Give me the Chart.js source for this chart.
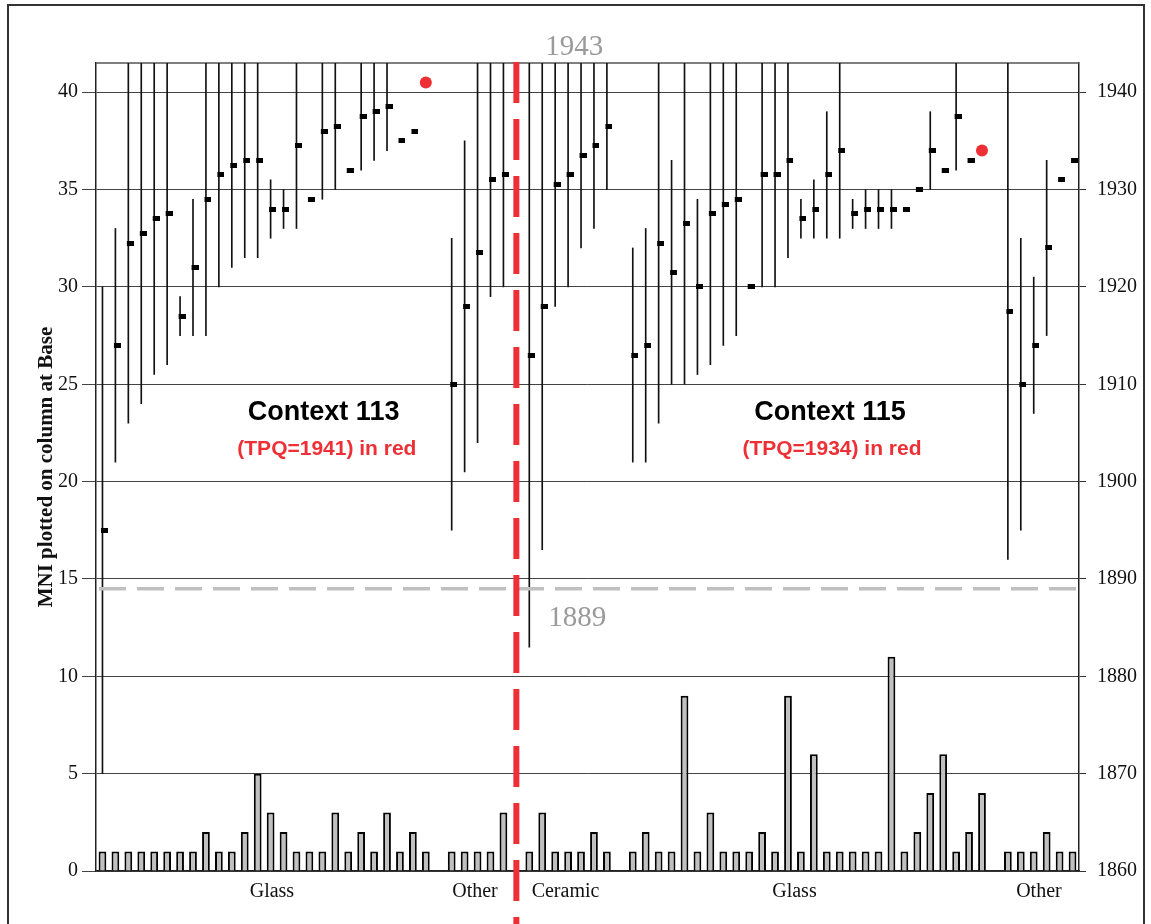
<!DOCTYPE html>
<html>
<head>
<meta charset="utf-8">
<title>MNI and date ranges, contexts 113 and 115</title>
<script src="https://cdn.jsdelivr.net/npm/chart.js@4.4.1/dist/chart.umd.min.js"></script>
<style>
  html, body { margin: 0; padding: 0; background: #fff; }
  #wrap { position: relative; width: 1151px; height: 924px; overflow: hidden; }
  #frame { position: absolute; left: 7px; top: 4px; width: 1134px; height: 960px; border: 2px solid #333; pointer-events: none; }
</style>
</head>
<body>
<div id="wrap">
  <canvas id="chart" width="1151" height="924"></canvas>
  <div id="frame"></div>
</div>
<script>
// one slot per column on the x axis, null = empty slot
// slots 0-25 glass (113), 27-31 other (113), 33-39 ceramic (115), 41-68 glass (115), 70-75 other (115)
const mni = [
  1, 1, 1, 1, 1, 1, 1, 1, 2, 1,
  1, 2, 5, 3, 2, 1, 1, 1, 3, 1,
  2, 1, 3, 1, 2, 1, null, 1, 1, 1,
  1, 3, null, 1, 3, 1, 1, 1, 2, 1,
  null, 1, 2, 1, 1, 9, 1, 3, 1, 1,
  1, 2, 1, 9, 1, 6, 1, 1, 1, 1,
  1, 11, 1, 2, 4, 6, 1, 2, 4, null,
  1, 1, 1, 2, 1, 1
];

// date range of each find (right axis, years)
const yearLo = [
  1870, 1902, 1906, 1908, 1911, 1912, 1915, 1915, 1915, 1920,
  1922, 1923, 1923, 1925, 1926, 1926, null, 1929, 1930, null,
  1932, 1933, 1934, null, null, null, null, 1895, 1901, 1904,
  1919, 1920, null, 1883, 1893, 1918, 1920, 1924, 1926, 1930,
  null, 1902, 1902, 1906, 1910, 1910, 1911, 1912, 1914, 1915,
  null, 1920, 1920, 1923, 1925, 1925, 1925, 1925, 1926, 1926,
  1926, 1926, null, null, 1930, null, 1932, null, null, null,
  1892, 1895, 1907, 1915, null, null
];
const yearHi = [
  1920, 1926, 1943, 1943, 1943, 1943, 1919, 1929, 1943, 1943,
  1943, 1943, 1943, 1931, 1930, 1943, null, 1943, 1943, null,
  1943, 1943, 1943, null, null, null, null, 1925, 1935, 1943,
  1943, 1943, null, 1943, 1943, 1943, 1943, 1943, 1943, 1943,
  null, 1924, 1926, 1943, 1933, 1943, 1929, 1943, 1943, 1943,
  null, 1943, 1943, 1943, 1929, 1931, 1938, 1943, 1929, 1930,
  1930, 1930, null, null, 1938, null, 1943, null, null, null,
  1943, 1925, 1921, 1933, null, null
];
const yearMid = [
  1895, 1914, 1924.5, 1925.5, 1927, 1927.5, 1917, 1922, 1929, 1931.5,
  1932.5, 1933, 1933, 1928, 1928, 1934.5, 1929, 1936, 1936.5, 1932,
  1937.5, 1938, 1938.5, 1935, 1936, null, null, 1910, 1918, 1923.5,
  1931, 1931.5, null, 1913, 1918, 1930.5, 1931.5, 1933.5, 1934.5, 1936.5,
  null, 1913, 1914, 1924.5, 1921.5, 1926.5, 1920, 1927.5, 1928.5, 1929,
  1920, 1931.5, 1931.5, 1933, 1927, 1928, 1931.5, 1934, 1927.5, 1928,
  1928, 1928, 1928, 1930, 1934, 1932, 1937.5, 1933, null, null,
  1917.5, 1910, 1914, 1924, 1931, 1933
];

// terminus post quem of each context (red dots)
const tpqSlot = [25, 68];
const tpqYear = [1941, 1934];

const groupNames = ['Glass', 'Other', 'Ceramic', 'Glass', 'Other'];
const groupAt = [13.1, 28.8, 35.8, 53.5, 72.4];

const mniTicks = [0, 5, 10, 15, 20, 25, 30, 35, 40];
const yearTicks = [1860, 1870, 1880, 1890, 1900, 1910, 1920, 1930, 1940];

const topYear = 1943;
const earliestYear = 1889;
const dividerSlot = 32;

const red = '#ee3036';
const serif = '"Liberation Serif", "Times New Roman", serif';
const sans = '"Liberation Sans", Arial, sans-serif';

// little flat black marker, left edge on the range line
const mark = document.createElement('canvas');
mark.width = 11;
mark.height = 5;
const mctx = mark.getContext('2d');
mctx.fillStyle = '#000';
mctx.fillRect(4, 0, 7, 5);

const notes = [
  { text: 'Context 113', slot: 17.1, mni: 23.55, font: 'bold 27px ' + sans, color: '#000' },
  { text: '(TPQ=' + tpqYear[0] + ') in red', slot: 17.35, mni: 21.65, font: 'bold 21px ' + sans, color: red },
  { text: 'Context 115', slot: 56.25, mni: 23.55, font: 'bold 27px ' + sans, color: '#000' },
  { text: '(TPQ=' + tpqYear[1] + ') in red', slot: 56.4, mni: 21.65, font: 'bold 21px ' + sans, color: red }
];

const overlay = {
  id: 'overlay',
  beforeDatasetsDraw(chart) {
    const { ctx, chartArea: a } = chart;
    ctx.save();
    ctx.strokeStyle = '#555';
    ctx.lineWidth = 1.5;
    ctx.beginPath();
    ctx.moveTo(a.left, a.top);
    ctx.lineTo(a.right, a.top);
    ctx.stroke();
    ctx.restore();
  },
  afterDraw(chart) {
    const { ctx, chartArea: a, scales } = chart;
    const xDiv = scales.x.getPixelForValue(dividerSlot);
    const yOld = scales.yr.getPixelForValue(earliestYear);
    ctx.save();

    ctx.strokeStyle = '#c0c0c0';
    ctx.lineWidth = 3.5;
    ctx.setLineDash([27, 11]);
    ctx.beginPath();
    ctx.moveTo(a.left + 3, yOld);
    ctx.lineTo(a.right, yOld);
    ctx.stroke();

    ctx.strokeStyle = red;
    ctx.lineWidth = 6;
    ctx.setLineDash([41, 16]);
    ctx.beginPath();
    ctx.moveTo(xDiv, a.top - 1);
    ctx.lineTo(xDiv, chart.height);
    ctx.stroke();
    ctx.setLineDash([]);

    ctx.fillStyle = '#9a9a9a';
    ctx.font = '29px ' + serif;
    ctx.textAlign = 'left';
    ctx.textBaseline = 'alphabetic';
    ctx.fillText(String(topYear), xDiv + 29, a.top - 8);
    ctx.fillText(String(earliestYear), xDiv + 32, yOld + 37);

    ctx.textAlign = 'center';
    ctx.textBaseline = 'middle';
    notes.forEach(n => {
      ctx.font = n.font;
      ctx.fillStyle = n.color;
      ctx.fillText(n.text, scales.x.getPixelForValue(n.slot), scales.y.getPixelForValue(n.mni));
    });
    ctx.restore();
  }
};

const mniData = [], rangeData = [], midData = [];
mni.forEach((v, i) => { if (v !== null) mniData.push({ x: i, y: v }); });
yearLo.forEach((lo, i) => { if (lo !== null) rangeData.push({ x: i, y: [lo, yearHi[i]] }); });
yearMid.forEach((m, i) => { if (m !== null) midData.push({ x: i, y: m }); });
const tpqData = tpqSlot.map((s, i) => ({ x: s, y: tpqYear[i] }));

new Chart(document.getElementById('chart'), {
  type: 'bar',
  data: {
    datasets: [
      {
        type: 'scatter',
        data: tpqData,
        yAxisID: 'yr',
        pointStyle: 'circle',
        pointRadius: 6,
        backgroundColor: red,
        borderWidth: 0,
        order: 0
      },
      {
        type: 'scatter',
        data: midData,
        yAxisID: 'yr',
        pointStyle: mark,
        pointRadius: 3,
        order: 1
      },
      {
        type: 'bar',
        data: rangeData,
        yAxisID: 'yr',
        grouped: false,
        barThickness: 1,
        backgroundColor: '#111',
        borderWidth: 0,
        order: 2
      },
      {
        type: 'bar',
        data: mniData,
        yAxisID: 'y',
        grouped: false,
        categoryPercentage: 1,
        barPercentage: 0.6,
        backgroundColor: '#c0c0c0',
        borderColor: '#000',
        borderWidth: 2,
        order: 3
      }
    ]
  },
  options: {
    responsive: false,
    animation: false,
    events: [],
    devicePixelRatio: 1,
    layout: { padding: { top: 63, left: 0, right: 0, bottom: 0 } },
    plugins: { legend: { display: false }, tooltip: { enabled: false } },
    scales: {
      x: {
        type: 'linear',
        min: -0.5,
        max: 75.5,
        offset: false,
        grid: { display: false, drawTicks: false },
        border: { display: true, color: '#222', width: 1.5 },
        afterBuildTicks: s => { s.ticks = groupAt.map(v => ({ value: v })); },
        afterFit: s => { s.height = 53; },
        ticks: {
          autoSkip: false,
          maxRotation: 0,
          padding: 9,
          color: '#111',
          font: { family: serif, size: 20 },
          callback: (v, i) => groupNames[i]
        }
      },
      y: {
        position: 'left',
        min: 0,
        max: 41.5,
        bounds: 'data',
        afterBuildTicks: s => { s.ticks = mniTicks.map(v => ({ value: v })); },
        afterFit: s => { s.width = 96; },
        grid: { color: '#444', lineWidth: 1, tickLength: 14 },
        border: { display: true, color: '#222', width: 1.5 },
        ticks: { padding: 4, color: '#111', font: { family: serif, size: 20 } },
        title: {
          display: true,
          text: 'MNI plotted on column at Base',
          color: '#111',
          padding: { top: 34, bottom: 0 },
          font: { family: serif, size: 21, weight: 'bold' }
        }
      },
      yr: {
        position: 'right',
        min: 1860,
        max: topYear,
        bounds: 'data',
        afterBuildTicks: s => { s.ticks = yearTicks.map(v => ({ value: v })); },
        afterFit: s => { s.width = 72; },
        grid: { drawOnChartArea: false, color: '#333', tickLength: 7 },
        border: { display: true, color: '#222', width: 1.5 },
        ticks: { padding: 11, color: '#111', font: { family: serif, size: 20 }, callback: v => String(v) }
      }
    }
  },
  plugins: [overlay]
});
</script>
</body>
</html>
